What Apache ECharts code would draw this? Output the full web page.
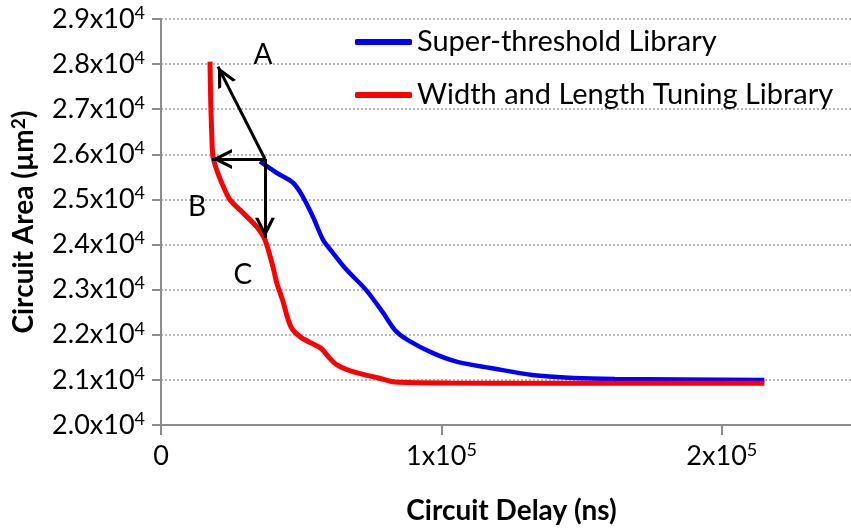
<!DOCTYPE html>
<html>
<head>
<meta charset="utf-8">
<script src="https://cdn.jsdelivr.net/npm/echarts@6/dist/echarts.min.js"></script>
<style>
  html, body { margin: 0; padding: 0; background: #fff; }
  #areaChart { width: 851px; height: 531px; }
</style>
</head>
<body>
<div id="areaChart"></div>
<script>
// values (delay in ns, area in um^2)
let superDelay = [35300, 41200, 47100, 50600, 54200, 57800, 61300, 66200, 73100, 79000, 83400, 87900, 96800, 105700, 117500, 132300, 147100, 161900, 215200];
let superArea  = [25843, 25592, 25370, 25059, 24616, 24105, 23817, 23439, 22996, 22507, 22108, 21886, 21598, 21398, 21265, 21110, 21043, 21021, 20999];

let tuningDelay = [17470, 17720, 18080, 18540, 19860, 21640, 24600, 29230, 34120, 37080, 39930, 41280, 43300, 46350, 50160, 56830, 59790, 62740, 68660, 77540, 83420, 102670, 132260, 215200];
let tuningArea  = [28055, 27212, 26480, 25947, 25658, 25370, 24993, 24704, 24394, 24105, 23506, 23151, 22780, 22175, 21931, 21709, 21509, 21331, 21176, 21043, 20954, 20932, 20925, 20925];

let xTicks = [0, 100000, 200000];
let seriesNames = ['Super-threshold Library', 'Width and Length Tuning Library'];

// arrows: start at the point on the blue curve, point to A, B, C
let arrowFrom = [37076, 25896];
let arrowTo = [[20320, 27944], [18180, 25896], [37076, 24150]];
let letterNames = ['A', 'B', 'C'];
let letterPos = [[36360, 28210], [12830, 24837], [29230, 23329]];

let chart = echarts.init(document.getElementById('areaChart'));

let font = 'Lato';
// open chevron head; the two bare moveTo points pad the box so the tip sits on the end point
let chevron = 'path://M0,0M40,0M20,20L30,40L26.5,40L20,27L13.5,40L10,40Z';

function pair(xs, ys) {
    return xs.map((x, i) => [x, ys[i]]);
}

chart.setOption({
    animation: false,
    textStyle: { fontFamily: font },
    grid: { left: 161, right: -11, top: 19, bottom: 106, outerBoundsMode: 'none' },
    legend: {
        orient: 'vertical',
        left: 350,
        top: 21,
        itemWidth: 57,
        itemHeight: 6,
        itemGap: 21,
        icon: 'roundRect',
        data: seriesNames,
        textStyle: { fontFamily: font, fontSize: 29, color: '#000', lineHeight: 32 }
    },
    xAxis: {
        type: 'value',
        min: 0,
        max: 250000,
        interval: 100000,
        name: 'Circuit Delay (ns)',
        nameLocation: 'middle',
        nameGap: 72,
        nameTextStyle: { fontFamily: font, fontSize: 28, fontWeight: 'bold', color: '#000' },
        axisLine: { lineStyle: { color: '#8c8c8c', width: 2 } },
        axisTick: { show: true, length: 10, lineStyle: { color: '#8c8c8c', width: 2 } },
        splitLine: { show: false },
        axisLabel: {
            margin: 16,
            formatter: function (v) {
                if (!xTicks.includes(v)) return '';
                if (v === 0) return '{a|0}';
                return '{a|' + (v / 100000) + 'x10}{s|5}';
            },
            rich: {
                a: { fontFamily: font, fontSize: 27, color: '#000', lineHeight: 30 },
                s: { fontFamily: font, fontSize: 18, color: '#000', verticalAlign: 'top', lineHeight: 18 }
            }
        }
    },
    yAxis: {
        type: 'value',
        min: 20000,
        max: 29000,
        interval: 1000,
        name: '{a|Circuit Area (µm}{s|2}{a|)}',
        nameLocation: 'middle',
        nameGap: 122,
        nameTextStyle: {
            rich: {
                a: { fontFamily: font, fontSize: 28, fontWeight: 'bold', color: '#000', lineHeight: 30 },
                s: { fontFamily: font, fontSize: 19, fontWeight: 'bold', color: '#000', verticalAlign: 'top', lineHeight: 19 }
            }
        },
        axisLine: { show: true, lineStyle: { color: '#8c8c8c', width: 2 } },
        axisTick: { show: true, length: 9, lineStyle: { color: '#8c8c8c', width: 2 } },
        splitLine: { show: true, lineStyle: { color: '#a0a0a0', width: 1.5, type: [2, 2] } },
        axisLabel: {
            margin: 16,
            formatter: function (v) {
                return '{a|' + (v / 10000).toFixed(1) + 'x10}{s|4}';
            },
            rich: {
                a: { fontFamily: font, fontSize: 27, color: '#000', lineHeight: 30 },
                s: { fontFamily: font, fontSize: 18, color: '#000', verticalAlign: 'top', lineHeight: 18 }
            }
        }
    },
    series: [
        {
            name: seriesNames[0],
            type: 'line',
            color: '#0000ff',
            data: pair(superDelay, superArea),
            showSymbol: false,
            smooth: 0.3,
            lineStyle: { color: '#0000ff', width: 4.5 },
            silent: true,
            markLine: {
                silent: true,
                symbol: ['none', 'arrow'],
                label: { show: false },
                lineStyle: { color: '#000', width: 3, type: 'solid' },
                data: arrowTo.map(p => [
                    { coord: arrowFrom, symbol: 'none' },
                    { coord: p, symbol: chevron, symbolSize: 40 }
                ])
            },
            markPoint: {
                silent: true,
                symbol: 'circle',
                symbolSize: 0,
                label: { show: true, position: 'inside', fontFamily: font, fontSize: 28, color: '#000', formatter: p => p.name },
                data: letterNames.map((n, i) => ({ name: n, coord: letterPos[i] }))
            }
        },
        {
            name: seriesNames[1],
            type: 'line',
            color: '#ff0000',
            data: pair(tuningDelay, tuningArea),
            showSymbol: false,
            smooth: 0.3,
            lineStyle: { color: '#ff0000', width: 5 },
            silent: true
        }
    ]
});
</script>
</body>
</html>
